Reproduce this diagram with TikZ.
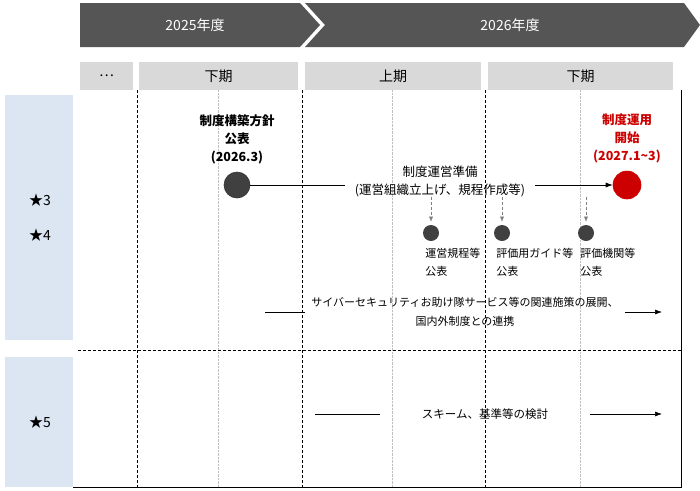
\documentclass[tikz,border=0pt]{standalone}
\usepackage{fontspec}
\setmainfont{Noto Sans CJK JP}
\usepackage{xcolor}
\usetikzlibrary{positioning, shapes, arrows.meta}
\definecolor{bannergray}{HTML}{555555}
\definecolor{periodgray}{HTML}{D9D9D9}
\definecolor{panelblue}{HTML}{DCE6F2}
\definecolor{golivered}{HTML}{CC0000}
\definecolor{dotgray}{HTML}{404040}

\begin{document}
\begin{tikzpicture}[x=1pt, y=-1pt, semithick,
  every node/.style={font=\fontsize{14}{16}\selectfont, align=center},
  period/.style={fill=periodgray, minimum height=28pt, inner sep=0pt},
  rowlabel/.style={font=\fontsize{14}{16}\selectfont},
  bigdot/.style={circle, fill=dotgray, draw=dotgray!80!black, minimum size=26pt, inner sep=0pt},
  smalldot/.style={circle, fill=dotgray, minimum size=16pt, inner sep=0pt},
  milestone/.style={font=\bfseries\fontsize{12.5}{18}\selectfont},
  publabel/.style={font=\fontsize{11}{18}\selectfont, align=left, anchor=north west, inner sep=0pt},
  task/.style={font=\fontsize{12.5}{18}\selectfont, inner sep=6pt},
  halfline/.style={black, dash pattern=on 3pt off 2pt, thin},
  quarterline/.style={gray!50, densely dotted, thin},
  goes/.style={-{Latex[length=7pt,width=5pt]}},
  pubarrow/.style={gray, densely dashed, thin, -{Latex[length=5pt,width=4pt]}, shorten >=3pt}]
  \useasboundingbox (0,0) rectangle (700,490);

  % fiscal years
  \fill[bannergray] (80,3) -- (300,3) -- (320,25) -- (300,47) -- (80,47) -- cycle;
  \fill[bannergray] (305,3) -- (684,3) -- (700,25) -- (684,47) -- (305,47) -- (325,25) -- cycle;
  \node[white] (fy25) at (195,25) {2025年度};
  \node[white] (fy26) at (510,25) {2026年度};

  % half years
  \node[period, minimum width=53pt] (h0) at (106.5,76) {…};
  \node[period, minimum width=159pt] (h1) at (218.5,76) {下期};
  \node[period, minimum width=176pt] (h2) at (393,76) {上期};
  \node[period, minimum width=185pt] (h3) at (580.5,76) {下期};

  % rows
  \fill[panelblue] (5,95) rectangle (73,340);
  \fill[panelblue] (5,357) rectangle (73,487);
  \node[rowlabel] (s3) at (40,200) {★3};
  \node[rowlabel] (s4) at (40,235) {★4};
  \node[rowlabel] (s5) at (40,422) {★5};

  % grid
  \foreach \x in {137,302,485}
    \draw[halfline] (\x,90) -- (\x,487);
  \foreach \x in {218,392,580}
    \draw[quarterline] (\x,90) -- (\x,487);
  \draw[thin, dash pattern=on 3pt off 2pt] (78,350) -- (681,350);
  \draw (73,487) -- (681,487) -- (681,90);

  % system launch
  \node[bigdot] (policy) at (237,185) {};
  \node[milestone, above=4pt of policy] (policyl) {制度構築方針\\公表\\(2026.3)};
  \node[bigdot, fill=golivered, draw=golivered, minimum size=28pt] (golive) at (627,185) {};
  \node[milestone, text=golivered, above=4pt of golive] (golivel) {制度運用\\開始\\(2027.1\textasciitilde3)};
  \node[task, inner xsep=10pt] (prep) at (440,181) {制度運営準備\\(運営組織立上げ、規程作成等)};
  \draw (policy) -- (policy -| prep.west);
  \draw[goes] (prep.east |- golive) -- (golive);

  % publications
  \node[smalldot] (rules) at (431,233) {};
  \node[smalldot] (guide) at (502,233) {};
  \node[smalldot] (bodies) at (586,233) {};
  \foreach \p in {rules,guide,bodies}
    \draw[pubarrow] ([yshift=28pt]\p.north) -- (\p.north);
  \node[publabel] (rulesl) at ([yshift=-9pt]rules.south west) {運営規程等\\公表};
  \node[publabel] (guidel) at ([yshift=-9pt]guide.south west) {評価用ガイド等\\公表};
  \node[publabel] (bodiesl) at ([yshift=-9pt]bodies.south west) {評価機関等\\公表};

  % related measures
  \node[task, font=\fontsize{11}{19}\selectfont] (coop) at (465,312) {サイバーセキュリティお助け隊サービス等の関連施策の展開、\\国内外制度との連携};
  \coordinate (coop0) at (265,312);
  \coordinate (coop1) at (662,312);
  \draw (coop0) -- (coop.west);
  \draw[goes] (coop.east) -- (coop1);

  % scheme study
  \node[task, font=\fontsize{11.5}{14}\selectfont, inner xsep=42pt] (scheme) at (485,414) {スキーム、基準等の検討};
  \coordinate (scheme0) at (315,414);
  \coordinate (scheme1) at (662,414);
  \draw (scheme0) -- (scheme.west);
  \draw[goes] (scheme.east) -- (scheme1);
\end{tikzpicture}
\end{document}
